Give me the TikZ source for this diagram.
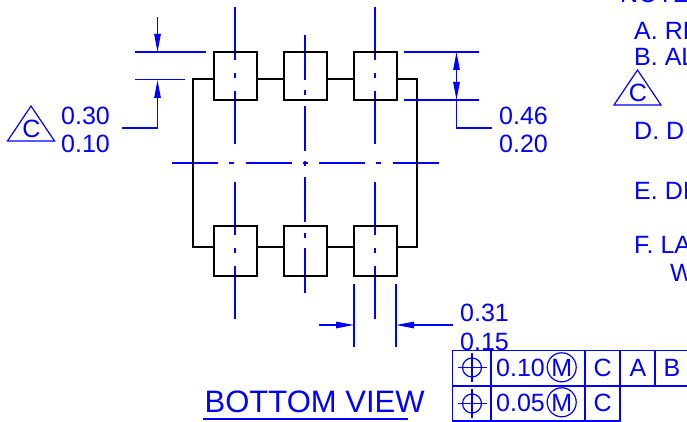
\documentclass[tikz,border=0pt]{standalone}
\usepackage{fontspec}
\setmainfont{Liberation Sans}
\usetikzlibrary{arrows.meta}
\definecolor{dimblue}{RGB}{0,0,255}
\tikzstyle{outline} = [draw=black,line width=2pt,line join=miter]
\tikzstyle{dimline} = [draw=dimblue,line width=1.2pt]
\tikzstyle{padcenter} = [dimline,dash pattern=on 53pt off 13pt on 5pt off 13pt]
\tikzstyle{midcenter} = [dimline,dash pattern=on 45pt off 10.5pt on 5pt off 10.5pt]
\tikzstyle{axiscenter} = [dimline,dash pattern=on 46pt off 11pt on 5pt off 11.5pt]
\tikzstyle{arrow} = [dimline,-{Triangle[length=18pt,width=6.5pt,fill=dimblue]}]
\tikzstyle{numtext} = [text=dimblue,inner sep=0pt,anchor=base west,font=\fontsize{25}{25}\selectfont]
\tikzstyle{celltext} = [text=dimblue,inner sep=0pt,anchor=base,font=\fontsize{25}{25}\selectfont]
\tikzstyle{framebox} = [draw=dimblue,line width=1.5pt]

\begin{document}
\begin{tikzpicture}[x=1pt,y=-1pt]
	\useasboundingbox (0,0) rectangle (687,422);
	\clip (0,0) rectangle (687,422);
	% center lines
	\foreach \x in {235,375} {
		\draw[padcenter] (\x,7) -- (\x,145);
		\draw[padcenter] (\x,182) -- (\x,319);
	}
	\draw[midcenter] (305,35) -- (305,293);
	\draw[axiscenter] (172,163) -- (438.5,163);
	% package body and pads
	\draw[outline] (214,79.5) -- (193,79.5) -- (193,247) -- (214,247);
	\draw[outline] (396,79.5) -- (417,79.5) -- (417,247) -- (396,247);
	\foreach \x in {256,326} {
		\draw[outline] (\x,79.5) -- (\x+28,79.5);
		\draw[outline] (\x,247) -- (\x+28,247);
	}
	\foreach \x in {214,284,354} {
		\draw[outline] (\x,52) rectangle (\x+42.5,100);
		\draw[outline] (\x,226) rectangle (\x+42.5,275.5);
	}
	% left dimension
	\draw[dimline] (135,52) -- (206,52);
	\draw[dimline] (135,79.5) -- (185,79.5);
	\draw[arrow] (157.5,17) -- (157.5,52);
	\draw[arrow] (122,128) -- (157.5,128) -- (157.5,80);
	\draw[dimline] (31,106) -- (7.5,141) -- (54.5,141) -- cycle;
	\node[celltext] (leftC) at (31.5,138) {C};
	\node[numtext] (leftMax) at (61,125) {0.30};
	\node[numtext] (leftMin) at (61,153) {0.10};
	% right dimension
	\draw[dimline] (404,52) -- (479,52);
	\draw[dimline] (404,100) -- (479,100);
	\draw[arrow] (456.5,76) -- (456.5,52);
	\draw[arrow] (456.5,76) -- (456.5,100);
	\draw[dimline] (492,128) -- (456.5,128) -- (456.5,100);
	\node[numtext] (rightMax) at (499,125) {0.46};
	\node[numtext] (rightMin) at (499,153) {0.20};
	% bottom dimension
	\draw[dimline] (354,284) -- (354,347);
	\draw[dimline] (396,284) -- (396,347);
	\draw[arrow] (319,325) -- (354,325);
	\draw[arrow] (453,325) -- (396,325);
	\node[numtext] (bottomMax) at (460,321) {0.31};
	\node[numtext] (bottomMin) at (460,350) {0.15};
	% title
	\node[numtext,font=\fontsize{31}{31}\selectfont] (title) at (204.5,412) {BOTTOM VIEW};
	\draw[dimline] (203,419) -- (408,419);
	% tolerance frames
	\draw[framebox] (687,350.5) -- (452.5,350.5) -- (452.5,421) -- (620,421) -- (620,350.5);
	\draw[framebox] (452.5,386) -- (687,386);
	\draw[framebox] (491,350.5) -- (491,421);
	\draw[framebox] (585,350.5) -- (585,421);
	\draw[dimline] (655,350.5) -- (655,386);
	\foreach \y in {367.5,403.5} {
		\draw[dimline] (472,\y) circle (9.5);
		\draw[dimline] (457.5,\y) -- (486.5,\y);
		\draw[dimline] (472,\y-14.5) -- (472,\y+14.5);
	}
	\node[numtext] (tolOne) at (496,376) {0.10};
	\node[numtext] (tolTwo) at (496,411) {0.05};
	\draw[dimline] (561.7,367.3) circle (14.5);
	\draw[dimline] (561.7,402.3) circle (14.5);
	\node[celltext] (matOne) at (561.7,376) {M};
	\node[celltext] (matTwo) at (561.7,411) {M};
	\node[celltext] (datC) at (602.7,376) {C};
	\node[celltext] (datA) at (638,376) {A};
	\node[celltext] (datB) at (672,376) {B};
	\node[celltext] (datCtwo) at (602.7,411) {C};
	% notes
	\node[numtext] (notes) at (620,3) {NOTES};
	\node[numtext] (noteA) at (634,39.5) {A. RE};
	\node[numtext] (noteB) at (634,65.7) {B. AL};
	\draw[dimline] (637.5,70) -- (614,105) -- (661,105) -- cycle;
	\node[celltext] (noteC) at (638,102) {C};
	\node[numtext] (noteD) at (634,139.5) {D. D};
	\node[numtext] (noteE) at (634,199) {E. DI};
	\node[numtext] (noteF) at (634,253.3) {F. LA};
	\node[numtext] (noteW) at (670,281) {W};
\end{tikzpicture}
\end{document}
